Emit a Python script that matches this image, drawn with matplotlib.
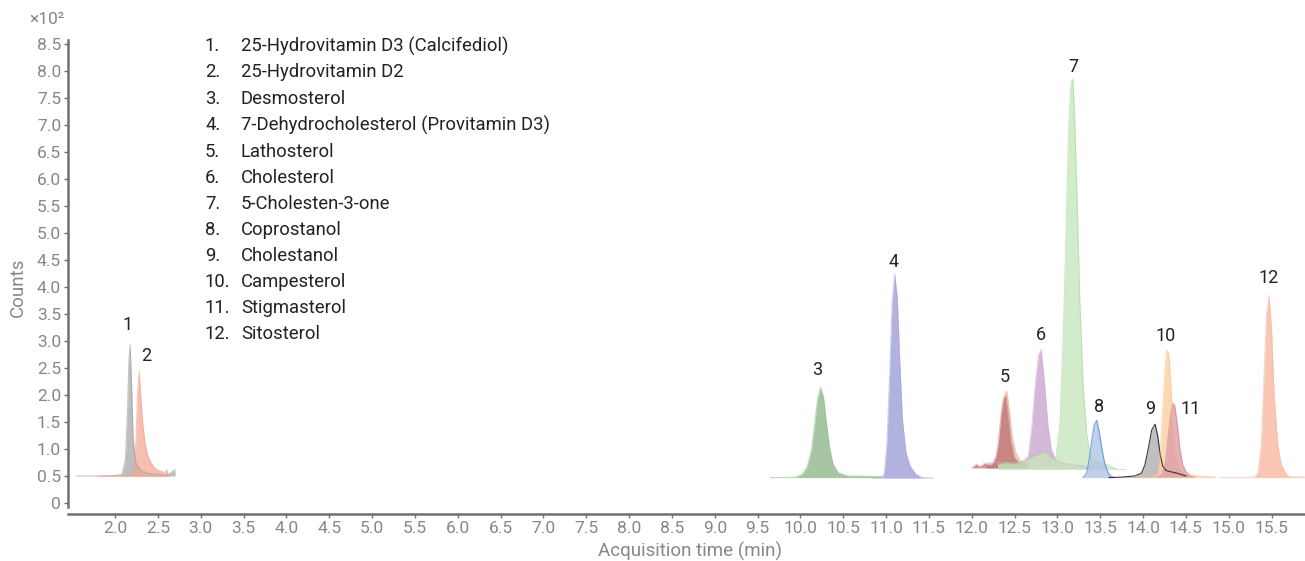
import matplotlib
matplotlib.use("Agg")
import matplotlib.pyplot as plt

W, H = 1305, 561
plt.rcParams['font.family'] = ['Roboto', 'DejaVu Sans']

# ---------------- data (x: min, y: counts x10^2) ----------------
t1 = [1.55, 1.8, 2.0, 2.08, 2.12, 2.145, 2.16, 2.175, 2.19, 2.21, 2.24, 2.3, 2.4, 2.5, 2.6, 2.65, 2.7]
y1 = [0.50, 0.50, 0.51, 0.53, 0.8, 1.7, 2.6, 2.93, 2.3, 1.2, 0.75, 0.6, 0.55, 0.53, 0.52, 0.56, 0.62]

t2 = [1.8, 2.0, 2.2, 2.225, 2.245, 2.26, 2.28, 2.30, 2.32, 2.35, 2.38, 2.42, 2.46, 2.52, 2.58, 2.6, 2.62, 2.64]
y2 = [0.49, 0.50, 0.52, 0.65, 1.2, 2.0, 2.44, 1.95, 1.5, 1.1, 0.88, 0.74, 0.65, 0.6, 0.56, 0.62, 0.52, 0.5]

t3 = [9.65, 9.8, 9.95, 10.02, 10.08, 10.13, 10.17, 10.2, 10.235, 10.27, 10.3, 10.34, 10.38, 10.44, 10.55, 10.7, 10.85, 10.95]
y3 = [0.47, 0.47, 0.48, 0.53, 0.67, 0.98, 1.5, 1.92, 2.14, 1.95, 1.52, 1.02, 0.72, 0.56, 0.5, 0.5, 0.49, 0.49]

t4 = [10.85, 10.95, 10.98, 11.01, 11.04, 11.07, 11.10, 11.13, 11.16, 11.19, 11.23, 11.28, 11.35, 11.42, 11.55]
y4 = [0.46, 0.46, 0.56, 1.1, 2.3, 3.7, 4.24, 3.8, 2.6, 1.55, 0.95, 0.68, 0.53, 0.47, 0.46]

t5 = [12.0, 12.05, 12.1, 12.15, 12.2, 12.24, 12.28, 12.31, 12.34, 12.37, 12.40, 12.43, 12.46, 12.5, 12.55, 12.6, 12.64]
y5 = [0.65, 0.72, 0.68, 0.74, 0.70, 0.72, 0.85, 1.1, 1.65, 1.95, 2.0, 1.6, 1.15, 0.85, 0.76, 0.72, 0.70]

t5b = [12.24, 12.29, 12.33, 12.36, 12.39, 12.41, 12.44, 12.47, 12.51, 12.56, 12.62, 12.66]
y5b = [0.72, 0.9, 1.4, 1.85, 2.05, 2.07, 1.7, 1.25, 0.95, 0.8, 0.74, 0.72]

t6 = [12.17, 12.3, 12.45, 12.6, 12.66, 12.70, 12.74, 12.78, 12.81, 12.85, 12.89, 12.93, 12.98, 13.05, 13.15, 13.3, 13.4]
y6 = [0.74, 0.75, 0.74, 0.76, 0.88, 1.4, 2.2, 2.75, 2.84, 2.2, 1.42, 0.98, 0.8, 0.74, 0.72, 0.68, 0.64]

t7 = [12.3, 12.4, 12.5, 12.6, 12.7, 12.8, 12.86, 12.92, 12.98, 13.03, 13.07, 13.1, 13.13, 13.16, 13.18, 13.2, 13.23, 13.26, 13.3, 13.34, 13.38, 13.42, 13.5, 13.6, 13.7, 13.8]
y7 = [0.72, 0.75, 0.73, 0.78, 0.85, 0.92, 0.95, 0.85, 0.8, 1.5, 3.2, 5.0, 6.9, 7.8, 7.85, 7.2, 5.6, 3.8, 2.2, 1.3, 0.9, 0.8, 0.75, 0.7, 0.62, 0.62]

t8 = [13.3, 13.34, 13.37, 13.40, 13.43, 13.46, 13.49, 13.52, 13.55, 13.58, 13.62, 13.66]
y8 = [0.47, 0.55, 0.8, 1.15, 1.45, 1.53, 1.3, 1.0, 0.75, 0.6, 0.5, 0.47]

t9 = [13.6, 13.75, 13.9, 13.98, 14.02, 14.06, 14.10, 14.14, 14.17, 14.2, 14.23, 14.27, 14.32, 14.4, 14.5]
y9 = [0.47, 0.48, 0.5, 0.55, 0.7, 1.0, 1.35, 1.46, 1.25, 0.9, 0.68, 0.6, 0.58, 0.55, 0.5]

t10 = [13.9, 14.1, 14.17, 14.2, 14.23, 14.26, 14.28, 14.30, 14.32, 14.35, 14.38, 14.42, 14.46, 14.55, 14.7, 14.85]
y10 = [0.47, 0.48, 0.55, 0.9, 1.8, 2.6, 2.83, 2.75, 2.3, 1.5, 0.95, 0.7, 0.58, 0.52, 0.5, 0.48]

t11 = [14.15, 14.22, 14.26, 14.29, 14.32, 14.35, 14.37, 14.40, 14.43, 14.46, 14.5, 14.55, 14.6]
y11 = [0.48, 0.52, 0.75, 1.2, 1.65, 1.85, 1.8, 1.45, 1.0, 0.72, 0.58, 0.5, 0.48]

t12 = [14.9, 15.1, 15.3, 15.34, 15.38, 15.41, 15.44, 15.47, 15.5, 15.53, 15.57, 15.61, 15.66, 15.7, 15.8, 15.88]
y12 = [0.47, 0.47, 0.48, 0.56, 1.1, 2.3, 3.5, 3.85, 3.2, 2.0, 1.1, 0.72, 0.56, 0.49, 0.48, 0.48]

compounds = ["25-Hydrovitamin D3 (Calcifediol)", "25-Hydrovitamin D2", "Desmosterol",
             "7-Dehydrocholesterol (Provitamin D3)", "Lathosterol", "Cholesterol",
             "5-Cholesten-3-one", "Coprostanol", "Cholestanol", "Campesterol",
             "Stigmasterol", "Sitosterol"]
peak_labels = ["1", "2", "3", "4", "5", "6", "7", "8", "9", "10", "11", "12"]

x_ticks = [2.0, 2.5, 3.0, 3.5, 4.0, 4.5, 5.0, 5.5, 6.0, 6.5, 7.0, 7.5, 8.0, 8.5, 9.0, 9.5,
           10.0, 10.5, 11.0, 11.5, 12.0, 12.5, 13.0, 13.5, 14.0, 14.5, 15.0, 15.5]
y_ticks = [0, 0.5, 1.0, 1.5, 2.0, 2.5, 3.0, 3.5, 4.0, 4.5, 5.0, 5.5, 6.0, 6.5, 7.0, 7.5, 8.0, 8.5]

# ---------------- styling ----------------
# (t, y, fill colour, line colour, fill alpha, line alpha, line width)
traces = [
    (t1, y1, "#a8a8a8", "#a0a0a0", 0.75, 0.6, 0.8),
    (t2, y2, "#f5a58e", "#f29a86", 0.70, 0.5, 0.8),
    (t3, y3, "#8fb58a", "#86c486", 0.78, 0.6, 0.8),
    (t4, y4, "#9d9dd8", "#a0a0dc", 0.78, 0.5, 0.8),
    (t6, y6, "#c8a5cc", "#d4a8d4", 0.78, 0.5, 0.8),
    (t5b, y5b, "#e8a890", "#eab09a", 0.55, 0.5, 0.8),
    (t5, y5, "#b86a6a", "#e8b0b8", 0.72, 0.6, 0.8),
    (t7, y7, "#c6e6bd", "#a8d8a0", 0.78, 0.55, 0.8),
    (t8, y8, "#afc3e8", "#4d88d4", 0.80, 0.75, 0.8),
    (t9, y9, "#b0b0b0", "#1a1a1a", 0.80, 0.85, 0.8),
    (t10, y10, "#fdd3a5", "#f8c090", 0.85, 0.5, 0.8),
    (t11, y11, "#dc9ca6", "#d070a0", 0.78, 0.5, 0.8),
    (t12, y12, "#f9bfa9", "#f7b5a0", 0.88, 0.5, 0.8),
]
peaks = [(t1, y1), (t2, y2), (t3, y3), (t4, y4), (t5b, y5b), (t6, y6), (t7, y7),
         (t8, y8), (t9, y9), (t10, y10), (t11, y11), (t12, y12)]
label_offsets = [(-3, 20), (7, 15), (-3, 17), (-1, 12), (-2, 14), (0, 15), (1, 12),
                 (2, 13), (-5, 15), (-1, 14), (18, -6), (0, 17)]

fig = plt.figure(figsize=(W / 100, H / 100), dpi=100)
ax = fig.add_axes([68 / W, (H - 507.3) / H, 1 - 68 / W, (507.3 - 39.7) / H])

for t, y, fc, lc, a, la, lw in traces:
    base = min(y)
    ax.fill_between(t, y, base, color=fc, alpha=a, linewidth=0)
    ax.plot(t, y, color=lc, linewidth=lw, alpha=la)

for (t, y), lab, (dx, dy) in zip(peaks, peak_labels, label_offsets):
    i = y.index(max(y))
    ax.annotate(lab, (t[i], y[i]), xytext=(dx, dy), textcoords='offset pixels',
                ha='center', va='center', fontsize=13, color='#222222')

ax.set_xlim(1.45, 15.89)
ax.set_ylim(-0.08, 8.58)
ax.set_xticks(x_ticks)
ax.set_xticklabels([f"{v:.1f}" for v in x_ticks])
ax.set_yticks(y_ticks)
ax.set_yticklabels(["0"] + [f"{v:.1f}" for v in y_ticks[1:]])

spine_c = "#6f7073"
for s in ['top', 'right']:
    ax.spines[s].set_visible(False)
for s in ['left', 'bottom']:
    ax.spines[s].set_color(spine_c)
    ax.spines[s].set_linewidth(1.8)
ax.spines['bottom'].set_position(('outward', 5))
ax.tick_params(axis='both', direction='out', length=3, width=1, color=spine_c,
               labelcolor='#86878a', labelsize=12.5, pad=2)

fig.text(690 / W, 1 - 551 / H, "Acquisition time (min)", ha='center', va='center',
         fontsize=13.5, color='#86878a')
fig.text(18 / W, 1 - 287 / H, "Counts", ha='center', va='center', rotation=90,
         fontsize=13.5, color='#86878a')
fig.text(29 / W, 1 - 20 / H, "×10²", ha='left', va='center', fontsize=12.5, color='#86878a')

row_y = [46, 72, 99, 125, 152, 178, 204, 230, 256, 282, 308, 334]
for lab, name, ry in zip(peak_labels, compounds, row_y):
    fig.text(205 / W, 1 - ry / H, lab + ".", ha='left', va='center', fontsize=13.3, color='#222222')
    fig.text(241 / W, 1 - ry / H, name, ha='left', va='center', fontsize=13.3, color='#222222')

fig.savefig("out.png", dpi=100)
